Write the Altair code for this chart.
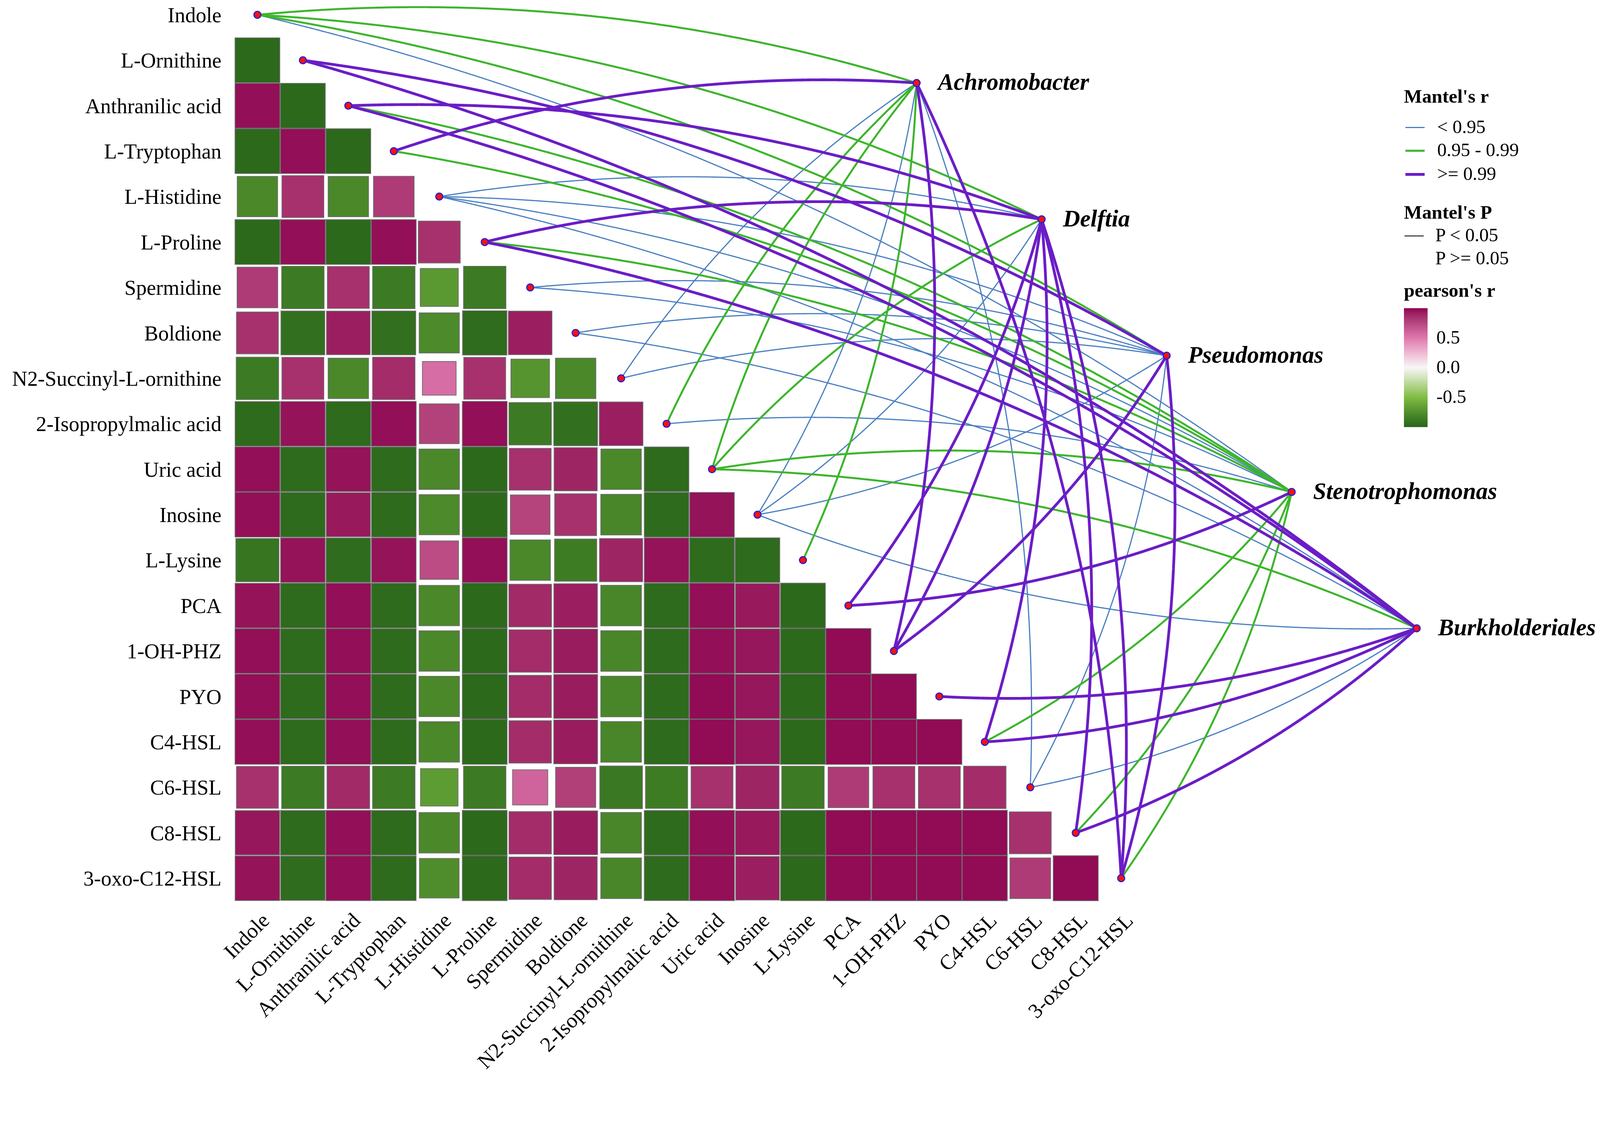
import numpy as np
import pandas as pd
import altair as alt

metabolites = ["Indole", "L-Ornithine", "Anthranilic acid", "L-Tryptophan", "L-Histidine",
               "L-Proline", "Spermidine", "Boldione", "N2-Succinyl-L-ornithine",
               "2-Isopropylmalic acid", "Uric acid", "Inosine", "L-Lysine", "PCA",
               "1-OH-PHZ", "PYO", "C4-HSL", "C6-HSL", "C8-HSL", "3-oxo-C12-HSL"]
taxa = ["Achromobacter", "Delftia", "Pseudomonas", "Stenotrophomonas", "Burkholderiales"]

# lower triangle of pearson's r: row i holds columns 0 .. i-1
pearson_rows = [
    [],
    [-0.97],
    [0.97, -0.97],
    [-0.97, 0.97, -0.97],
    [-0.79, 0.85, -0.79, 0.80],
    [-0.97, 0.97, -0.97, 0.97, 0.85],
    [0.80, -0.87, 0.85, -0.87, -0.70, -0.87],
    [0.85, -0.93, 0.92, -0.93, -0.78, -0.95, 0.92],
    [-0.87, 0.85, -0.79, 0.87, 0.55, 0.85, -0.72, -0.79],
    [-0.96, 0.96, -0.96, 0.97, 0.77, 0.97, -0.87, -0.93, 0.92],
    [0.97, -0.96, 0.96, -0.96, -0.79, -0.97, 0.85, 0.90, -0.79, -0.96],
    [0.97, -0.96, 0.94, -0.96, -0.78, -0.97, 0.76, 0.85, -0.80, -0.96, 0.96],
    [-0.90, 0.96, -0.95, 0.96, 0.72, 0.97, -0.79, -0.86, 0.90, 0.96, -0.96, -0.96],
    [0.96, -0.96, 0.97, -0.96, -0.79, -0.97, 0.88, 0.92, -0.80, -0.96, 0.97, 0.94, -0.97],
    [0.97, -0.96, 0.97, -0.96, -0.79, -0.97, 0.87, 0.93, -0.80, -0.96, 0.97, 0.95, -0.97, 0.98],
    [0.97, -0.96, 0.97, -0.96, -0.79, -0.97, 0.87, 0.93, -0.80, -0.96, 0.98, 0.95, -0.97, 0.98, 0.98],
    [0.97, -0.96, 0.97, -0.96, -0.79, -0.97, 0.87, 0.93, -0.80, -0.96, 0.98, 0.95, -0.97, 0.98, 0.98, 0.98],
    [0.85, -0.87, 0.88, -0.87, -0.68, -0.87, 0.60, 0.78, -0.88, -0.86, 0.85, 0.90, -0.87, 0.80, 0.85, 0.85, 0.87],
    [0.95, -0.96, 0.97, -0.96, -0.79, -0.97, 0.87, 0.93, -0.80, -0.96, 0.97, 0.94, -0.97, 0.98, 0.98, 0.98, 0.98, 0.85],
    [0.96, -0.95, 0.97, -0.96, -0.76, -0.97, 0.87, 0.90, -0.80, -0.96, 0.97, 0.92, -0.97, 0.98, 0.98, 0.98, 0.98, 0.80, 0.98],
]

r_levels = ["< 0.95", "0.95 - 0.99", ">= 0.99"]
p_levels = ["P < 0.05", "P >= 0.05"]

# Mantel links (metabolite, taxon, Mantel's r class); all P < 0.05
link_met = ["Indole", "Indole", "Indole", "Indole",
            "L-Ornithine", "L-Ornithine",
            "Anthranilic acid", "Anthranilic acid", "Anthranilic acid",
            "L-Tryptophan", "L-Tryptophan",
            "L-Histidine", "L-Histidine", "L-Histidine", "L-Histidine",
            "L-Proline", "L-Proline", "L-Proline",
            "Spermidine", "Spermidine",
            "Boldione", "Boldione",
            "N2-Succinyl-L-ornithine", "N2-Succinyl-L-ornithine",
            "2-Isopropylmalic acid", "2-Isopropylmalic acid",
            "Uric acid", "Uric acid", "Uric acid", "Uric acid",
            "Inosine", "Inosine", "Inosine", "Inosine",
            "L-Lysine",
            "PCA", "PCA",
            "1-OH-PHZ", "1-OH-PHZ", "1-OH-PHZ",
            "PYO",
            "C4-HSL", "C4-HSL", "C4-HSL",
            "C6-HSL", "C6-HSL", "C6-HSL",
            "C8-HSL", "C8-HSL", "C8-HSL",
            "3-oxo-C12-HSL", "3-oxo-C12-HSL", "3-oxo-C12-HSL", "3-oxo-C12-HSL"]
link_tax = ["Achromobacter", "Delftia", "Pseudomonas", "Stenotrophomonas",
            "Pseudomonas", "Burkholderiales",
            "Delftia", "Stenotrophomonas", "Burkholderiales",
            "Achromobacter", "Stenotrophomonas",
            "Delftia", "Pseudomonas", "Stenotrophomonas", "Burkholderiales",
            "Delftia", "Stenotrophomonas", "Burkholderiales",
            "Pseudomonas", "Stenotrophomonas",
            "Pseudomonas", "Burkholderiales",
            "Achromobacter", "Pseudomonas",
            "Achromobacter", "Stenotrophomonas",
            "Achromobacter", "Delftia", "Stenotrophomonas", "Burkholderiales",
            "Achromobacter", "Delftia", "Pseudomonas", "Burkholderiales",
            "Achromobacter",
            "Delftia", "Stenotrophomonas",
            "Achromobacter", "Delftia", "Pseudomonas",
            "Burkholderiales",
            "Delftia", "Stenotrophomonas", "Burkholderiales",
            "Achromobacter", "Pseudomonas", "Burkholderiales",
            "Delftia", "Stenotrophomonas", "Burkholderiales",
            "Achromobacter", "Delftia", "Pseudomonas", "Stenotrophomonas"]
link_r = ["0.95 - 0.99", "0.95 - 0.99", "0.95 - 0.99", "< 0.95",
          ">= 0.99", ">= 0.99",
          ">= 0.99", "0.95 - 0.99", ">= 0.99",
          ">= 0.99", "0.95 - 0.99",
          "< 0.95", "< 0.95", "< 0.95", "< 0.95",
          ">= 0.99", "0.95 - 0.99", ">= 0.99",
          "< 0.95", "< 0.95",
          "< 0.95", "< 0.95",
          "< 0.95", "< 0.95",
          "0.95 - 0.99", "< 0.95",
          "0.95 - 0.99", "0.95 - 0.99", "0.95 - 0.99", "0.95 - 0.99",
          "< 0.95", "< 0.95", "< 0.95", "< 0.95",
          "0.95 - 0.99",
          ">= 0.99", ">= 0.99",
          ">= 0.99", ">= 0.99", ">= 0.99",
          ">= 0.99",
          ">= 0.99", "0.95 - 0.99", ">= 0.99",
          "< 0.95", "< 0.95", "< 0.95",
          ">= 0.99", "0.95 - 0.99", ">= 0.99",
          ">= 0.99", ">= 0.99", ">= 0.99", "0.95 - 0.99"]
link_p = ["P < 0.05"] * len(link_met)

# ---------------- layout (cell units; y grows downward) ----------------
n = len(metabolites)
tax_x = 14.5 + 2.75 * np.arange(len(taxa))
tax_y = 1.5 + 3.0 * np.arange(len(taxa))

cells = pd.DataFrame([
    {"row": i, "col": j, "r": v, "absr": abs(v)}
    for i, vals in enumerate(pearson_rows) for j, v in enumerate(vals)
])
anchors = pd.DataFrame({"name": metabolites, "x": np.arange(n, dtype=float),
                        "y": np.arange(n, dtype=float)})
nodes = pd.DataFrame({"name": taxa, "x": tax_x, "y": tax_y})

# curved links (quadratic curves, bend 0.1 of chord length)
mi = np.array([metabolites.index(m) for m in link_met], float)
ti = np.array([taxa.index(t) for t in link_tax])
ax, ay = mi, mi
bx, by = tax_x[ti], tax_y[ti]
dx, dy = bx - ax, by - ay
L = np.hypot(dx, dy)
side = np.where(mi <= 10, 1.0, -1.0)
nx, ny = side * dy / L, -side * dx / L
cx = (ax + bx) / 2 + nx * 0.1 * L
cy = (ay + by) / 2 + ny * 0.1 * L
ts = np.linspace(0, 1, 41)
recs = []
for k in range(len(link_met)):
    for t in ts:
        recs.append({
            "lid": k, "t": t,
            "x": (1 - t) ** 2 * ax[k] + 2 * (1 - t) * t * cx[k] + t ** 2 * bx[k],
            "y": (1 - t) ** 2 * ay[k] + 2 * (1 - t) * t * cy[k] + t ** 2 * by[k],
            "rcat": link_r[k], "pcat": link_p[k],
        })
curves = pd.DataFrame(recs)
order_map = {lv: i for i, lv in enumerate(r_levels)}
curves["w"] = curves["rcat"].map(order_map)
curves = curves.sort_values(["w", "lid", "t"])

# ---------------- scales ----------------
W, H = 4312, 2800
unit = 123.0
x0 = -(696 - 8) / unit
y0 = -(40 - 8 - 80) / unit
xs = alt.Scale(domain=[x0, x0 + W / unit], nice=False, zero=False)
ys = alt.Scale(domain=[y0, y0 + H / unit], nice=False, zero=False, reverse=True)
FONT = "Liberation Serif"

X = lambda f: alt.X(f, scale=xs, axis=None)
Y = lambda f: alt.Y(f, scale=ys, axis=None)

heat = alt.Chart(cells).mark_square(filled=True, stroke="#6e6e6e", strokeWidth=2, opacity=1).encode(
    x=X("col:Q"), y=Y("row:Q"),
    fill=alt.Fill("r:Q",
                  scale=alt.Scale(domain=[-1, -0.5, 0, 0.5, 1],
                                  range=["#276419", "#7fbc41", "#f7f7f7", "#de77ae", "#8e0152"]),
                  legend=alt.Legend(title="pearson's r", orient="none", legendX=3790, legendY=674,
                                    direction="vertical", gradientLength=322, gradientThickness=64,
                                    values=[-0.5, 0, 0.5], labelOffset=24,
                                    labelExpr="datum.value < 0 ? '-' + format(-datum.value, '.1f') : format(datum.value, '.1f')",
                                    titlePadding=20, gradientStrokeWidth=0)),
    size=alt.Size("absr:Q", scale=alt.Scale(domain=[0, 1], range=[0, unit * unit]), legend=None),
)

mantel_legend = dict(title="Mantel's r", orient="none", legendX=3790, legendY=149,
                     symbolSize=2700, labelOffset=30, titlePadding=28, rowPadding=9)
links = alt.Chart(curves).mark_line(strokeCap="butt").encode(
    x=X("x:Q"), y=Y("y:Q"), detail="lid:N", order="t:Q",
    color=alt.Color("rcat:O", scale=alt.Scale(domain=r_levels, range=["#4a7fc1", "#3db52c", "#6b1dc6"]),
                    legend=alt.Legend(**mantel_legend)),
    strokeWidth=alt.StrokeWidth("rcat:O", scale=alt.Scale(domain=r_levels, range=[3.2, 7.5, 13]),
                                legend=alt.Legend(**mantel_legend)),
    strokeDash=alt.StrokeDash("pcat:N", scale=alt.Scale(domain=p_levels, range=[[1, 0], [0, 10000]]),
                              legend=alt.Legend(title="Mantel's P", orient="none", legendX=3790, legendY=463,
                                                symbolSize=2700, symbolStrokeColor="#444444",
                                                symbolStrokeWidth=3, labelOffset=30, titlePadding=8,
                                                rowPadding=9)),
)

dot_style = dict(shape="circle", filled=True, fill="#ff1010", stroke="#2020d8", strokeWidth=3,
                 size=360, opacity=1)
adots = alt.Chart(anchors).mark_point(**dot_style).encode(x=X("x:Q"), y=Y("y:Q"))
ndots = alt.Chart(nodes).mark_point(**dot_style).encode(x=X("x:Q"), y=Y("y:Q"))

row_lab = alt.Chart(anchors).transform_calculate(lx="-0.79").mark_text(
    align="right", baseline="middle", font=FONT, fontSize=57, color="black", dy=3).encode(
    x=X("lx:Q"), y=Y("y:Q"), text="name:N")
col_lab = alt.Chart(anchors).transform_calculate(lx="datum.x + 0.03", ly="19.7").mark_text(
    align="right", baseline="top", angle=315, font=FONT, fontSize=57, color="black").encode(
    x=X("lx:Q"), y=Y("ly:Q"), text="name:N")
tax_lab = alt.Chart(nodes).transform_calculate(lx="datum.x + 0.47").mark_text(
    align="left", baseline="middle", font=FONT, fontSize=64, fontStyle="italic", fontWeight="bold",
    color="black").encode(x=X("lx:Q"), y=Y("y:Q"), text="name:N")

chart = alt.layer(heat, links, adots, ndots, row_lab, col_lab, tax_lab).properties(
    width=W, height=H, padding=0,
    autosize=alt.AutoSizeParams(type="none", contains="padding")
).configure_view(stroke=None).configure_legend(
    titleFont=FONT, labelFont=FONT, titleFontSize=52, labelFontSize=51, titleFontWeight="bold",
    titleColor="black", labelColor="black", padding=0, titleLimit=0, labelLimit=0
)

chart.save("out.html", embed_options={"renderer": "svg", "actions": False})
